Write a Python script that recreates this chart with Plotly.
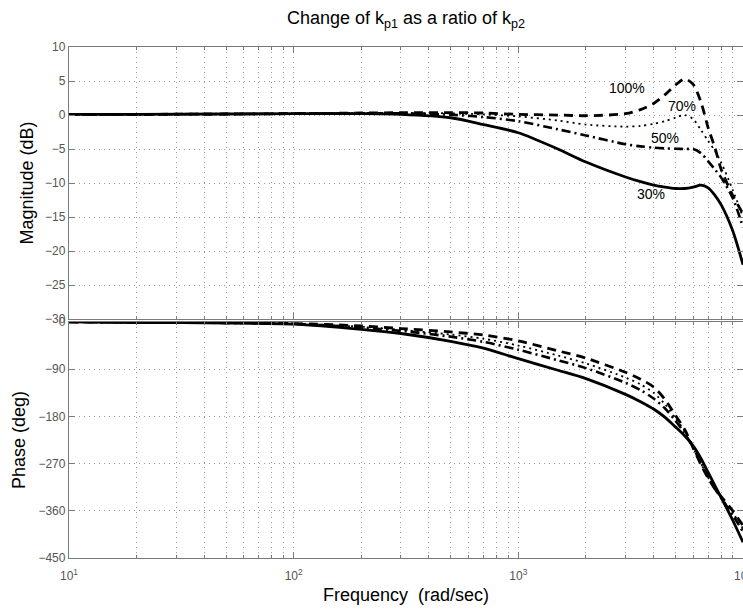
import math
import plotly.graph_objects as go

# ---------------- data ----------------
freq = [10, 20, 50, 100, 200, 300, 500, 700, 1000, 1500, 2000, 3000, 3500, 4000,
        4500, 5000, 5500, 6000, 6500, 7000, 7500, 8000, 9000, 10000]

series_names = ["30%", "50%", "70%", "100%"]

mag_30 = [0.1, 0.1, 0.15, 0.2, 0.2, 0.1, -0.4, -1.4, -2.6, -5.0, -6.9, -9.1, -9.8, -10.3,
          -10.6, -10.8, -10.8, -10.6, -10.3, -10.7, -11.8, -13.2, -17.0, -22.0]
mag_50 = [0.1, 0.1, 0.15, 0.2, 0.25, 0.25, 0.05, -0.3, -0.9, -2.1, -3.0, -4.3, -4.6, -4.8,
          -4.9, -4.95, -5.0, -5.0, -5.6, -6.8, -8.0, -9.2, -12.2, -16.5]
mag_70 = [0.1, 0.1, 0.15, 0.2, 0.3, 0.3, 0.25, 0.1, -0.2, -0.8, -1.4, -1.7, -1.6, -1.3,
          -0.9, -0.4, 0.0, -0.6, -2.2, -3.8, -5.3, -7.0, -11.0, -15.0]
mag_100 = [0.1, 0.1, 0.15, 0.2, 0.3, 0.35, 0.35, 0.3, 0.1, 0.0, -0.1, 0.2, 0.8, 1.7,
           3.0, 4.4, 5.3, 4.5, 1.9, -1.9, -4.8, -8.0, -11.8, -14.5]

ph_30 = [0, -1, -2, -4, -14, -22, -37, -50, -70, -92, -108, -138, -152, -166,
         -182, -200, -217, -236, -260, -287, -312, -335, -378, -420]
ph_50 = [0, -0.7, -1.7, -3.5, -10.5, -17, -28, -38, -53, -73, -88, -116, -130, -146,
         -165, -188, -212, -240, -268, -295, -318, -336, -368, -400]
ph_70 = [0, -0.6, -1.6, -3.2, -9, -15, -24, -32, -45, -64, -79, -106, -119, -135,
         -157, -183, -208, -240, -270, -297, -318, -335, -364, -394]
ph_100 = [0, -0.5, -1.5, -3, -7.5, -12.5, -19, -25, -36, -55, -69, -96, -109, -124,
          -148, -178, -205, -240, -272, -298, -318, -333, -360, -388]

mag_ticks = [-30, -25, -20, -15, -10, -5, 0, 5, 10]
phase_ticks = [-450, -360, -270, -180, -90, 0]
decades = [10, 100, 1000, 10000]
decade_labels = ["10<sup>1</sup>", "10<sup>2</sup>", "10<sup>3</sup>", "10<sup>4</sup>"]
minor_vals = [m * d for d in [10, 100, 1000] for m in range(2, 10)]

# label positions (frequency, dB)
label_text = ["100%", "70%", "50%", "30%"]
label_freq = [3041, 5346, 4487, 3890]
label_db = [4.0, 1.28, -3.35, -11.66]

# ---------------- styles ----------------
styles = {
    "30%": dict(color="black", width=2.8, dash="solid"),
    "50%": dict(color="black", width=2.6, dash="9px,4px,2px,4px"),
    "70%": dict(color="black", width=1.8, dash="2px,4px"),
    "100%": dict(color="black", width=2.8, dash="9px,6px"),
}
mags = {"30%": mag_30, "50%": mag_50, "70%": mag_70, "100%": mag_100}
phases = {"30%": ph_30, "50%": ph_50, "70%": ph_70, "100%": ph_100}

fig = go.Figure()
for name in series_names:
    fig.add_trace(go.Scatter(x=freq, y=mags[name], mode="lines", name=name,
                             line=dict(shape="spline", smoothing=0.8, **styles[name]),
                             xaxis="x", yaxis="y", showlegend=False))
    fig.add_trace(go.Scatter(x=freq, y=phases[name], mode="lines", name=name,
                             line=dict(shape="spline", smoothing=0.8, **styles[name]),
                             xaxis="x2", yaxis="y2", showlegend=False))

FONT = "Liberation Sans, Arial, Helvetica, sans-serif"
AX = "#7a7a7a"
GRID = "#9a9a9a"

common_x = dict(type="log", range=[1, 4], showline=True, linecolor=AX, linewidth=1.3,
                mirror="ticks", ticks="inside", ticklen=6, tickcolor=AX,
                tickmode="array", tickvals=decades, automargin=False,
                showgrid=True, gridcolor=GRID, griddash="1px,4px", gridwidth=1,
                zeroline=False,
                minor=dict(tickmode="array", tickvals=minor_vals, ticks="inside",
                           ticklen=3, tickcolor=AX, showgrid=True,
                           gridcolor=GRID, griddash="1px,4px", gridwidth=1))

common_y = dict(showline=True, linecolor=AX, linewidth=1.3, mirror="ticks",
                ticks="inside", ticklen=6, tickcolor=AX, tickmode="array",
                automargin=False,
                showgrid=True, gridcolor=GRID, griddash="1px,4px", gridwidth=1,
                zeroline=False, tickfont=dict(size=12, color="#555555", family=FONT),
                title_font=dict(size=18, color="black", family=FONT))

fig.update_layout(
    width=743, height=612,
    margin=dict(l=69, r=0, t=47, b=54, autoexpand=False),
    paper_bgcolor="white", plot_bgcolor="white",
    font=dict(family=FONT, color="black"),
    title=dict(text="Change of k<sub>p1</sub> as a ratio of k<sub>p2</sub>",
               x=0.5, xref="paper", xanchor="center",
               y=1 - 18 / 612, yref="container", yanchor="middle",
               font=dict(size=18, color="black", family=FONT)),
    xaxis=dict(anchor="y", matches="x2", showticklabels=False, **common_x),
    xaxis2=dict(anchor="y2", showticklabels=True, ticktext=decade_labels,
                ticklabeloverflow="allow", ticklabelstandoff=6,
                tickfont=dict(size=12, color="#555555", family=FONT),
                title=dict(text="Frequency\u00a0 (rad/sec)", standoff=6,
                           font=dict(size=18, color="black", family=FONT)),
                **common_x),
    yaxis=dict(domain=[0.4674, 1.0], range=[-30, 10], tickvals=mag_ticks,
               title=dict(text="Magnitude (dB)", standoff=6), **common_y),
    yaxis2=dict(domain=[0.0, 0.4619], range=[-450, 0], tickvals=phase_ticks,
                title=dict(text="Phase (deg)", standoff=8), **common_y),
)

for t, fx, fy in zip(label_text, label_freq, label_db):
    fig.add_annotation(x=math.log10(fx), y=fy, xref="x", yref="y",
                       text=t, showarrow=False,
                       font=dict(size=14, color="black", family=FONT))

fig.write_html("out.html")
